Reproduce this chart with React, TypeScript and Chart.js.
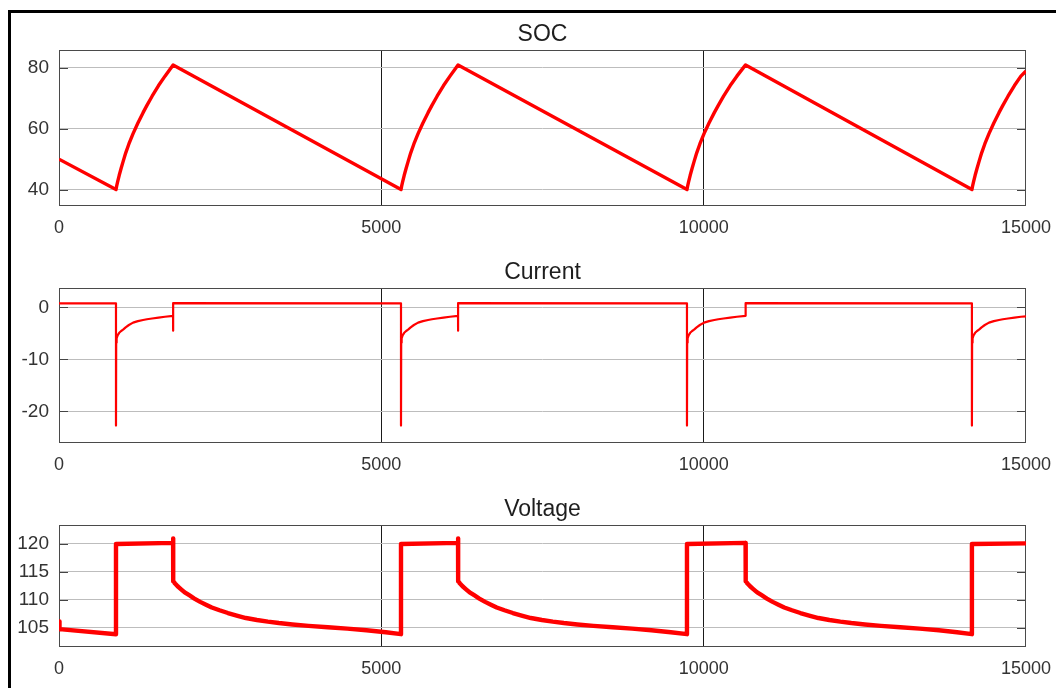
import React, { useEffect, useRef } from "react";
import { Chart, registerables } from "chart.js";

Chart.register(...registerables);

const FONT = "'Liberation Sans', Arial, Helvetica, sans-serif";

const xTicks = [0, 5000, 10000, 15000];
const socTicks = [40, 60, 80];
const currentTicks = [-20, -10, 0];
const voltageTicks = [105, 110, 115, 120];

const socPoints: [number, number][] = [
  [0, 50], [884, 40],
  [894, 41.1], [909, 42.5], [934, 44.7], [964, 47.0], [994, 49.2], [1034, 52.0], [1084, 55.0], [1149, 58.4], [1224, 61.9], [1304, 65.3], [1364, 67.7], [1444, 70.7], [1544, 74.2], [1644, 77.3], [1770, 81],
  [5305, 40],
  [5315, 41.1], [5330, 42.5], [5355, 44.7], [5385, 47.0], [5415, 49.2], [5455, 52.0], [5505, 55.0], [5570, 58.4], [5645, 61.9], [5725, 65.3], [5785, 67.7], [5865, 70.7], [5965, 74.2], [6065, 77.3], [6190, 81],
  [9741, 40],
  [9751, 41.1], [9766, 42.5], [9791, 44.7], [9821, 47.0], [9851, 49.2], [9891, 52.0], [9941, 55.0], [10006, 58.4], [10083, 61.9], [10165, 65.3], [10227, 67.7], [10309, 70.7], [10412, 74.2], [10515, 77.3], [10650, 81],
  [14161, 40],
  [14171, 41.1], [14186, 42.5], [14211, 44.7], [14241, 47.0], [14271, 49.2], [14311, 52.0], [14361, 55.0], [14426, 58.4], [14501, 61.9], [14581, 65.3], [14641, 67.7], [14721, 70.7], [14821, 74.2], [14921, 77.3], [15000, 79],
];

const currentPoints: [number, number][] = [
  [0, 0.75], [884, 0.75], [884, -22.7],
  [887, -6.8], [894, -6.0], [909, -5.4], [934, -4.9], [964, -4.55], [994, -4.3], [1034, -3.85], [1084, -3.4], [1149, -2.95], [1224, -2.65], [1304, -2.45], [1364, -2.3], [1444, -2.15], [1544, -1.98], [1644, -1.82], [1770, -1.65],
  [1770, -4.5], [1771, 0.8],
  [5305, 0.75], [5305, -22.7],
  [5308, -6.8], [5315, -6.0], [5330, -5.4], [5355, -4.9], [5385, -4.55], [5415, -4.3], [5455, -3.85], [5505, -3.4], [5570, -2.95], [5645, -2.65], [5725, -2.45], [5785, -2.3], [5865, -2.15], [5965, -1.98], [6065, -1.82], [6190, -1.65],
  [6190, -4.5], [6191, 0.8],
  [9741, 0.75], [9741, -22.7],
  [9744, -6.8], [9751, -6.0], [9766, -5.4], [9791, -4.9], [9821, -4.55], [9851, -4.3], [9891, -3.85], [9941, -3.4], [10006, -2.95], [10083, -2.65], [10165, -2.45], [10227, -2.3], [10309, -2.15], [10412, -1.98], [10515, -1.82], [10650, -1.65],
  [10651, 0.8],
  [14161, 0.75], [14161, -22.7],
  [14164, -6.8], [14171, -6.0], [14186, -5.4], [14211, -4.9], [14241, -4.55], [14271, -4.3], [14311, -3.85], [14361, -3.4], [14426, -2.95], [14501, -2.65], [14581, -2.45], [14641, -2.3], [14721, -2.15], [14821, -1.98], [14921, -1.82], [15000, -1.75],
];

const voltagePoints: [number, number][] = [
  [0, 106.1], [8, 104.7], [884, 103.8], [884, 120.0], [1770, 120.2], [1770, 121.0],
  [1773, 113.3], [1800, 112.9], [1840, 112.4], [1890, 111.9], [1950, 111.3], [2020, 110.8], [2100, 110.2], [2190, 109.6], [2280, 109.1], [2370, 108.6], [2490, 108.1], [2620, 107.6], [2770, 107.1], [2900, 106.7], [3070, 106.35], [3240, 106.05], [3410, 105.8], [3620, 105.55], [3870, 105.3], [4170, 105.05], [4470, 104.8], [4770, 104.5], [5070, 104.15], [5305, 103.8],
  [5305, 120.0], [6190, 120.2], [6190, 121.0],
  [6193, 113.3], [6220, 112.9], [6260, 112.4], [6310, 111.9], [6370, 111.3], [6440, 110.8], [6520, 110.2], [6610, 109.6], [6700, 109.1], [6790, 108.6], [6910, 108.1], [7040, 107.6], [7190, 107.1], [7320, 106.7], [7490, 106.35], [7660, 106.05], [7830, 105.8], [8040, 105.55], [8290, 105.3], [8590, 105.05], [8890, 104.8], [9190, 104.5], [9490, 104.15], [9741, 103.8],
  [9741, 120.0], [10650, 120.2],
  [10652, 113.3], [10680, 112.9], [10720, 112.4], [10770, 111.9], [10830, 111.3], [10900, 110.8], [10980, 110.2], [11070, 109.6], [11160, 109.1], [11250, 108.6], [11370, 108.1], [11500, 107.6], [11650, 107.1], [11780, 106.7], [11950, 106.35], [12120, 106.05], [12290, 105.8], [12500, 105.55], [12750, 105.3], [13050, 105.05], [13350, 104.8], [13650, 104.5], [13930, 104.15], [14161, 103.8],
  [14161, 120.0], [15000, 120.1],
];

const framePlugin = {
  id: "frame",
  beforeDatasetsDraw(chart: any) {
    const { ctx, chartArea: a } = chart;
    const ys = chart.scales.y;
    ctx.save();
    ctx.lineWidth = 1;
    ctx.strokeStyle = "#444444";
    for (const t of ys.ticks) {
      const y = Math.round(ys.getPixelForValue(t.value)) + 0.5;
      ctx.beginPath();
      ctx.moveTo(a.left, y);
      ctx.lineTo(a.left + 9, y);
      ctx.moveTo(a.right - 9, y);
      ctx.lineTo(a.right, y);
      ctx.stroke();
    }
    ctx.strokeStyle = "#4a4a4a";
    ctx.strokeRect(Math.round(a.left) + 0.5, Math.round(a.top) + 0.5, Math.round(a.right - a.left) - 1, Math.round(a.bottom - a.top) - 1);
    ctx.restore();
  },
  afterDraw(chart: any, _args: any, opts: any) {
    const { ctx, chartArea: a } = chart;
    ctx.save();
    ctx.font = `23px ${FONT}`;
    ctx.fillStyle = "#1e1e1e";
    ctx.textAlign = "center";
    ctx.textBaseline = "middle";
    ctx.fillText(opts.title || "", (a.left + a.right) / 2, a.top - 15);
    ctx.restore();
  },
};

type PanelProps = {
  title: string;
  points: [number, number][];
  yTicks: number[];
  yMin: number;
  yMax: number;
  lineWidth: number;
  top: number;
  height: number;
  areaTop: number;
  areaBottom: number;
};

function Panel(p: PanelProps) {
  const ref = useRef<HTMLCanvasElement | null>(null);
  useEffect(() => {
    if (!ref.current) return;
    const xAxisHeight = p.height - p.areaBottom;
    const chart = new Chart(ref.current, {
      type: "line",
      data: {
        datasets: [
          {
            data: p.points.map(([x, y]) => ({ x, y })),
            borderColor: "#ff0000",
            borderWidth: p.lineWidth,
            pointRadius: 0,
            tension: 0,
            fill: false,
            borderJoinStyle: "round",
          } as any,
        ],
      },
      options: {
        responsive: false,
        animation: false,
        events: [],
        layout: { padding: { left: 0, right: 30, top: p.areaTop, bottom: 0 } },
        plugins: {
          legend: { display: false },
          tooltip: { enabled: false },
          title: { display: false },
          frame: { title: p.title },
        } as any,
        scales: {
          x: {
            type: "linear",
            min: 0,
            max: 15000,
            afterBuildTicks: (s: any) => {
              s.ticks = xTicks.map((v) => ({ value: v }));
            },
            afterFit: (s: any) => {
              s.height = xAxisHeight;
              s.paddingLeft = 0;
              s.paddingRight = 0;
            },
            border: { display: false },
            grid: {
              drawTicks: false,
              lineWidth: 1,
              color: (c: any) =>
                c.tick && (c.tick.value === 0 || c.tick.value === 15000) ? "rgba(0,0,0,0)" : "#1a1a1a",
            },
            ticks: {
              autoSkip: false,
              maxRotation: 0,
              padding: 11,
              color: "#333333",
              font: { family: FONT, size: 18 },
              callback: (v: any) => String(v),
            },
          },
          y: {
            type: "linear",
            min: p.yMin,
            max: p.yMax,
            afterBuildTicks: (s: any) => {
              s.ticks = p.yTicks.map((v) => ({ value: v }));
            },
            afterFit: (s: any) => {
              s.width = 59;
              s.paddingTop = 0;
              s.paddingBottom = 0;
            },
            border: { display: false },
            grid: { drawTicks: false, lineWidth: 1, color: "#bdbdbd" },
            ticks: {
              padding: 10,
              color: "#333333",
              font: { family: FONT, size: 19 },
              callback: (v: any) => String(v),
            },
          },
        },
      },
      plugins: [framePlugin],
    } as any);
    return () => chart.destroy();
  }, []);
  return (
    <canvas
      ref={ref}
      width={1056}
      height={p.height}
      style={{ position: "absolute", left: 0, top: p.top, width: 1056, height: p.height }}
    />
  );
}

export default function App() {
  return (
    <div
      style={{
        position: "absolute",
        left: 0,
        top: 0,
        width: 1056,
        height: 688,
        overflow: "hidden",
        background: "#ffffff",
      }}
    >
      <div
        style={{
          position: "absolute",
          left: 8,
          top: 10,
          width: 1200,
          height: 900,
          borderTop: "3px solid #000",
          borderLeft: "3px solid #000",
        }}
      />
      <Panel title="SOC" points={socPoints} yTicks={socTicks} yMin={34.6} yMax={85.9} lineWidth={3.4}
        top={0} height={250} areaTop={50} areaBottom={206} />
      <Panel title="Current" points={currentPoints} yTicks={currentTicks} yMin={-26.05} yMax={3.7} lineWidth={2.2}
        top={250} height={235} areaTop={38} areaBottom={193} />
      <Panel title="Voltage" points={voltagePoints} yTicks={voltageTicks} yMin={101.5} yMax={123.4} lineWidth={4.4}
        top={485} height={203} areaTop={40} areaBottom={162} />
    </div>
  );
}
